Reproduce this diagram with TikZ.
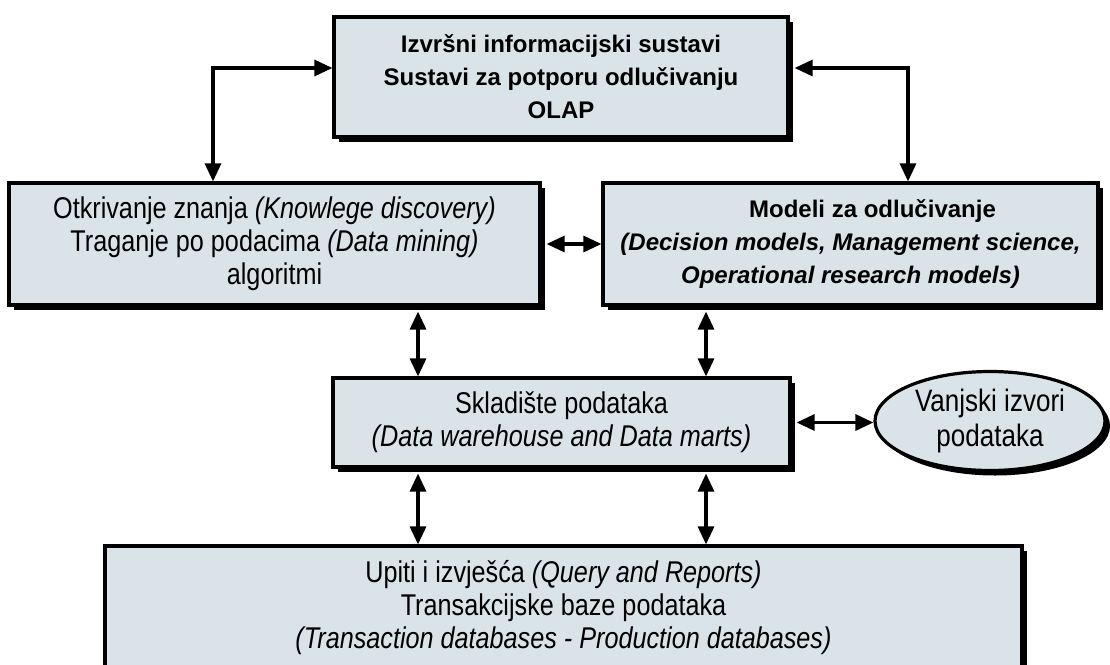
\documentclass[tikz,border=0pt]{standalone}
\usepackage{fontspec}
\setmainfont{Liberation Sans}
\newfontfamily\narrowfont{Liberation Sans}[FakeStretch=0.84]
\usetikzlibrary{arrows.meta,shapes.geometric,shadows,calc}
\definecolor{boxfill}{RGB}{218,228,232}
\tikzset{
  box/.style={draw, line width=3.2pt, fill=boxfill, align=center, inner sep=0pt,
    drop shadow={shadow xshift=5pt, shadow yshift=-5pt, fill=black, opacity=1}},
  wide/.style={font=\fontsize{24}{33}\selectfont\bfseries},
  narrow/.style={font=\narrowfont\fontsize{30}{33}\selectfont},
  link/.style={line width=3.2pt, {Triangle[length=18pt,width=16pt]}-{Triangle[length=18pt,width=16pt]}}
}
\begin{document}
\begin{tikzpicture}[x=1pt, y=-1pt]
  \clip (0,0) rectangle (1110,664);
  \node[box, wide, minimum width=454pt, minimum height=120pt] (eis) at (561,77)
    {Izvršni informacijski sustavi\\Sustavi za potporu odlučivanju\\OLAP};
  \node[box, narrow, minimum width=531pt, minimum height=122pt] (kd) at (274.5,244)
    {Otkrivanje znanja \textit{(Knowlege discovery)}\\Traganje po podacima \textit{(Data mining)}\\algoritmi};
  \node[box, wide, minimum width=495pt, minimum height=122pt] (dm) at (850.5,244)
    {\hspace*{44pt}Modeli za odlučivanje\\\textit{(Decision models, Management science,}\\\textit{Operational research models)}};
  \node[box, narrow, minimum width=457pt, minimum height=89pt] (dw) at (561.5,422.5)
    {Skladište podataka\\\textit{(Data warehouse and Data marts)}};
  \node[box, ellipse, font=\narrowfont\fontsize{31}{35}\selectfont,
    minimum width=230pt, minimum height=99pt] (ext) at (990,421)
    {Vanjski izvori\\podataka};
  \node[box, narrow, minimum width=917pt, minimum height=124pt] (db) at (563.5,608)
    {Upiti i izvješća \textit{(Query and Reports)}\\Transakcijske baze podataka\\\textit{(Transaction databases - Production databases)}};
  % columns of the vertical arrows
  \coordinate (c1) at ([xshift=-143.5pt]dw.north);
  \coordinate (c2) at ([xshift=144.5pt]dw.north);
  \draw[link] ([xshift=-61.5pt]kd.north) |- ([yshift=9pt]eis.west);
  \draw[link] ([xshift=5pt,yshift=9pt]eis.east) -| ([xshift=57.5pt]dm.north);
  \draw[link] ([xshift=5pt]kd.east) -- (dm.west);
  \draw[link] (c1) -- ($(c1 |- kd.south)+(0,5)$);
  \draw[link] (c2) -- ($(c2 |- dm.south)+(0,5)$);
  \draw[link] ([xshift=5pt]dw.east) -- (dw.east -| ext.west);
  \draw[link] ($(c1 |- dw.south)+(0,5)$) -- (c1 |- db.north);
  \draw[link] ($(c2 |- dw.south)+(0,5)$) -- (c2 |- db.north);
\end{tikzpicture}
\end{document}
